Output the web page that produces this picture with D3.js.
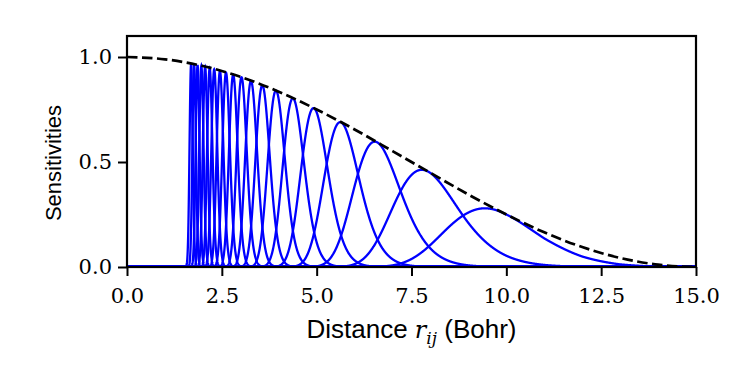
<!DOCTYPE html>
<html>
<head>
<meta charset="utf-8">
<script src="https://cdn.jsdelivr.net/npm/d3@7/dist/d3.min.js"></script>
<style>
    body { margin: 0; background: #fff; }
    svg { display: block; }
    .tick text { font-family: 'DejaVu Serif', serif; font-size: 21px; }
    .label { font-family: 'Liberation Sans', Arial, sans-serif; }
</style>
</head>
<body>
<svg id="chart" width="747" height="374"></svg>
<script>
// cutoff envelope
var envDist = [0, 1, 2, 3, 4, 5, 6, 7, 8, 9, 10, 11, 12, 13, 14, 15];
var envSens = [1.0, 0.989, 0.957, 0.905, 0.835, 0.75, 0.655, 0.552, 0.448, 0.345, 0.25, 0.165, 0.095, 0.043, 0.011, 0.0];

// centres of the sensitivity bumps (Bohr)
var centers = [1.69, 1.77, 1.86, 1.96, 2.06, 2.18, 2.30, 2.45, 2.61, 2.80,
               3.02, 3.27, 3.57, 3.93, 4.38, 4.93, 5.65, 6.60, 7.95, 10.0];
// width of each bump in 1/r
var invWidth = 0.0147;

var xTicks = [0, 2.5, 5, 7.5, 10, 12.5, 15];
var yTicks = [0, 0.5, 1.0];

(function () {
    var margin = { top: 36, right: 51, bottom: 107, left: 127 };
    var width = 747 - margin.left - margin.right;
    var height = 374 - margin.top - margin.bottom;

    var svg = d3.select('#chart');

    var x = d3.scaleLinear().domain([0, 15]).range([0, width]);
    var y = d3.scaleLinear().domain([0, 1.1]).range([height, 0]);
    var env = d3.scaleLinear().domain(envDist).range(envSens);

    var g = svg.append('g')
        .attr('transform', 'translate(' + margin.left + ',' + margin.top + ')');

    g.append('clipPath')
        .attr('id', 'clip')
        .append('rect')
        .attr('width', width)
        .attr('height', height + 3)
        .attr('y', -3);

    var plot = g.append('g').attr('clip-path', 'url(#clip)');

    var grid = d3.range(0, 1.4, 0.05).concat(d3.range(1.4, 15.0001, 0.004));

    var line = d3.line()
        .x(function (d) { return x(d[0]); })
        .y(function (d) { return y(d[1]); });

    centers.forEach(function (c) {
        var pts = grid.map(function (r) {
            var z = (1 / r - 1 / c) / invWidth;
            var v = r === 0 ? 0 : env(r) * Math.exp(-0.5 * z * z);
            return [r, v];
        });
        plot.append('path')
            .datum(pts)
            .attr('fill', 'none')
            .attr('stroke', '#0000ff')
            .attr('stroke-width', 2.3)
            .attr('d', line);
    });

    plot.append('path')
        .datum(d3.zip(envDist, envSens))
        .attr('fill', 'none')
        .attr('stroke', '#000')
        .attr('stroke-width', 2.7)
        .attr('stroke-dasharray', '10.5,4.5')
        .attr('d', line.curve(d3.curveMonotoneX));

    var xAxis = g.append('g')
        .attr('transform', 'translate(0,' + height + ')')
        .call(d3.axisBottom(x).tickValues(xTicks).tickFormat(d3.format('.1f')).tickSizeOuter(0).tickSize(9).tickPadding(12));

    var yAxis = g.append('g')
        .call(d3.axisLeft(y).tickValues(yTicks).tickFormat(d3.format('.1f')).tickSizeOuter(0).tickSize(9).tickPadding(6));

    [xAxis, yAxis].forEach(function (a) {
        a.select('.domain').remove();
        a.selectAll('.tick line').attr('stroke', '#000').attr('stroke-width', 2);
        a.selectAll('.tick text').attr('fill', '#000');
    });

    g.append('rect')
        .attr('width', width)
        .attr('height', height)
        .attr('fill', 'none')
        .attr('stroke', '#000')
        .attr('stroke-width', 2.2);

    var xl = svg.append('text')
        .attr('class', 'label')
        .attr('font-size', '26px')
        .attr('x', margin.left + width / 2)
        .attr('y', 338)
        .attr('text-anchor', 'middle');
    xl.append('tspan').text('Distance ');
    xl.append('tspan')
        .attr('font-family', 'DejaVu Serif, serif')
        .attr('font-style', 'italic')
        .attr('font-size', '24px')
        .text('r');
    xl.append('tspan')
        .attr('font-family', 'DejaVu Serif, serif')
        .attr('font-style', 'italic')
        .attr('font-size', '17px')
        .attr('dy', 6)
        .text('ij');
    xl.append('tspan').attr('dy', -6).text(' (Bohr)');

    // ylabel sits a bit below the axes centre in the original
    svg.append('text')
        .attr('class', 'label')
        .attr('font-size', '22px')
        .attr('transform', 'translate(61,163) rotate(-90)')
        .attr('text-anchor', 'middle')
        .text('Sensitivities');
}());
</script>
</body>
</html>
